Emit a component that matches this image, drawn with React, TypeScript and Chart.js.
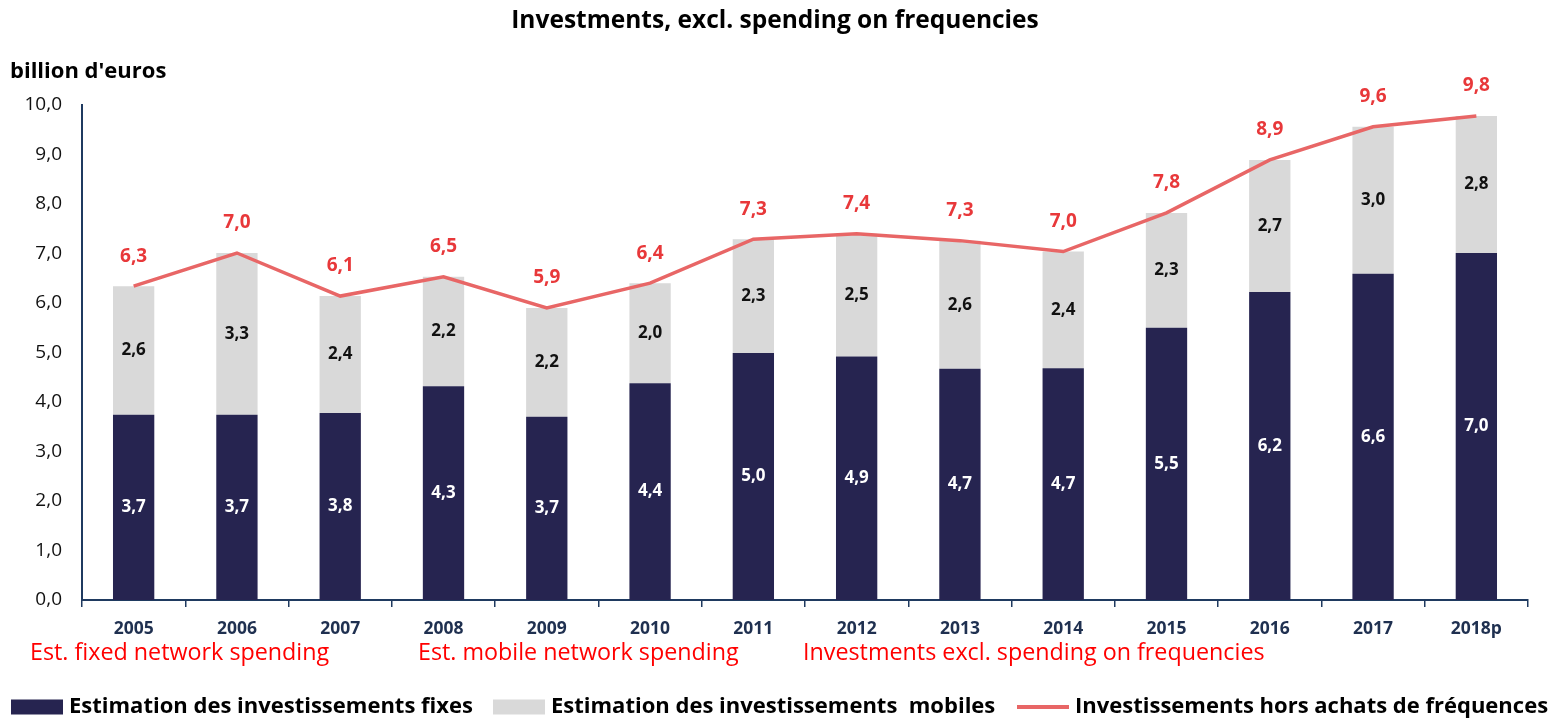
import React, { useEffect, useRef } from 'react';
import { Chart, registerables } from 'chart.js';

Chart.register(...registerables);

const years = ['2005', '2006', '2007', '2008', '2009', '2010', '2011', '2012', '2013', '2014', '2015', '2016', '2017', '2018p'];
const fixedInvest = [3.74, 3.74, 3.78, 4.32, 3.70, 4.38, 4.99, 4.92, 4.67, 4.68, 5.50, 6.22, 6.59, 7.01];
const mobileInvest = [2.60, 3.27, 2.36, 2.21, 2.20, 2.02, 2.30, 2.48, 2.59, 2.36, 2.32, 2.67, 2.97, 2.77];
const totalInvest = [6.34, 7.01, 6.14, 6.53, 5.90, 6.40, 7.29, 7.40, 7.26, 7.04, 7.82, 8.89, 9.56, 9.78];
const seriesNames = [
  'Estimation des investissements fixes',
  'Estimation des investissements  mobiles',
  'Investissements hors achats de fréquences',
];
const notes = [
  'Est. fixed network spending',
  'Est. mobile network spending',
  'Investments excl. spending on frequencies',
];
const titleText = 'Investments, excl. spending on frequencies';
const unitText = "billion d'euros";

const FONT = '"Open Sans", Lato, sans-serif';
const NAVY = '#262450';
const GRAY = '#d9d9d9';
const LINE = '#e86666';
const AXIS = '#1f3a60';

const fmt = (v: number) => v.toFixed(1).replace('.', ',');

const overlay = {
  id: 'overlay',
  afterDatasetsDraw(chart: any) {
    const ctx = chart.ctx;
    ctx.save();
    ctx.textAlign = 'center';
    ctx.textBaseline = 'middle';
    chart.data.datasets.forEach((ds: any, i: number) => {
      const meta = chart.getDatasetMeta(i);
      meta.data.forEach((el: any, j: number) => {
        const v = ds.data[j] as number;
        if (meta.type === 'bar') {
          const p = el.getProps(['x', 'y', 'base'], true);
          ctx.fillStyle = ds.labelColor;
          ctx.font = `bold 17px ${FONT}`;
          ctx.fillText(fmt(v), p.x, (p.y + p.base) / 2);
        } else {
          const p = el.getProps(['x', 'y'], true);
          ctx.fillStyle = '#e8383a';
          ctx.font = `bold 19px ${FONT}`;
          ctx.fillText(fmt(v), p.x, p.y - 30);
        }
      });
    });
    ctx.restore();
  },
  afterDraw(chart: any) {
    const ctx = chart.ctx;
    ctx.save();
    // unit label
    ctx.fillStyle = '#000';
    ctx.font = `bold 22px ${FONT}`;
    ctx.textAlign = 'left';
    ctx.textBaseline = 'middle';
    ctx.fillText(unitText, 10, 72);
    // red notes
    ctx.fillStyle = '#ff0000';
    ctx.font = `23.3px ${FONT}`;
    const noteX = [30, 418, 803];
    notes.forEach((t, i) => ctx.fillText(t, noteX[i], 653));
    // legend
    const itemX = [11, 493, 1017];
    const ly = 707;
    ctx.font = `bold 22px ${FONT}`;
    chart.data.datasets.forEach((ds: any) => {
      const x0 = itemX[ds.legendIndex];
      if (ds.type === 'line') {
        ctx.strokeStyle = ds.borderColor;
        ctx.lineWidth = 4;
        ctx.beginPath();
        ctx.moveTo(x0, ly);
        ctx.lineTo(x0 + 52, ly);
        ctx.stroke();
      } else {
        ctx.fillStyle = ds.backgroundColor;
        ctx.fillRect(x0, ly - 7.5, 52, 15);
      }
      ctx.fillStyle = '#000';
      ctx.fillText(ds.label, x0 + 58, ly);
    });
    ctx.restore();
  },
};

export default function App() {
  const ref = useRef<HTMLCanvasElement | null>(null);

  useEffect(() => {
    if (!ref.current) return;
    const chart = new Chart(ref.current, {
      type: 'bar',
      data: {
        labels: years,
        datasets: [
          {
            type: 'line',
            label: seriesNames[2],
            data: totalInvest,
            borderColor: LINE,
            backgroundColor: LINE,
            borderWidth: 3.5,
            pointRadius: 0,
            tension: 0,
            stack: 'total',
            order: 0,
            legendIndex: 2,
          } as any,
          {
            type: 'bar',
            label: seriesNames[0],
            data: fixedInvest,
            backgroundColor: NAVY,
            borderWidth: 0,
            stack: 'inv',
            order: 1,
            labelColor: '#ffffff',
            legendIndex: 0,
            barPercentage: 0.4,
            categoryPercentage: 1,
          } as any,
          {
            type: 'bar',
            label: seriesNames[1],
            data: mobileInvest,
            backgroundColor: GRAY,
            borderWidth: 0,
            stack: 'inv',
            order: 1,
            labelColor: '#111111',
            legendIndex: 1,
            barPercentage: 0.4,
            categoryPercentage: 1,
          } as any,
        ],
      },
      options: {
        responsive: true,
        maintainAspectRatio: false,
        animation: false,
        layout: { padding: { left: 22, right: 29, top: 0, bottom: 0 } },
        plugins: {
          legend: { display: false },
          tooltip: { enabled: false },
          title: {
            display: true,
            text: titleText,
            color: '#000',
            font: { family: FONT, size: 24.5, weight: 'bold' },
            padding: { top: 6.3, bottom: 69.3 },
          },
        },
        scales: {
          x: {
            stacked: true,
            grid: {
              offset: true,
              drawOnChartArea: false,
              drawTicks: true,
              tickLength: 7,
              color: AXIS,
              lineWidth: 1.5,
            },
            border: { display: true, color: AXIS, width: 2 },
            ticks: {
              color: '#1f3050',
              padding: 12,
              font: { family: FONT, size: 17.5, weight: 'bold' },
              maxRotation: 0,
            },
            afterFit: (s: any) => { s.height = 119; },
          },
          y: {
            stacked: true,
            min: 0,
            max: 10,
            grid: { display: false, drawTicks: false },
            border: { display: true, color: AXIS, width: 2 },
            ticks: {
              stepSize: 1,
              color: '#111',
              padding: 20,
              font: { family: FONT, size: 19 },
              callback: (v: any) => fmt(Number(v)),
            },
            afterFit: (s: any) => { s.width = 60; },
          },
        },
      },
      plugins: [overlay],
    } as any);
    return () => chart.destroy();
  }, []);

  return (
    <div style={{ position: 'fixed', left: 0, top: 0, width: 1557, height: 719, background: '#fff' }}>
      <canvas ref={ref} />
    </div>
  );
}
